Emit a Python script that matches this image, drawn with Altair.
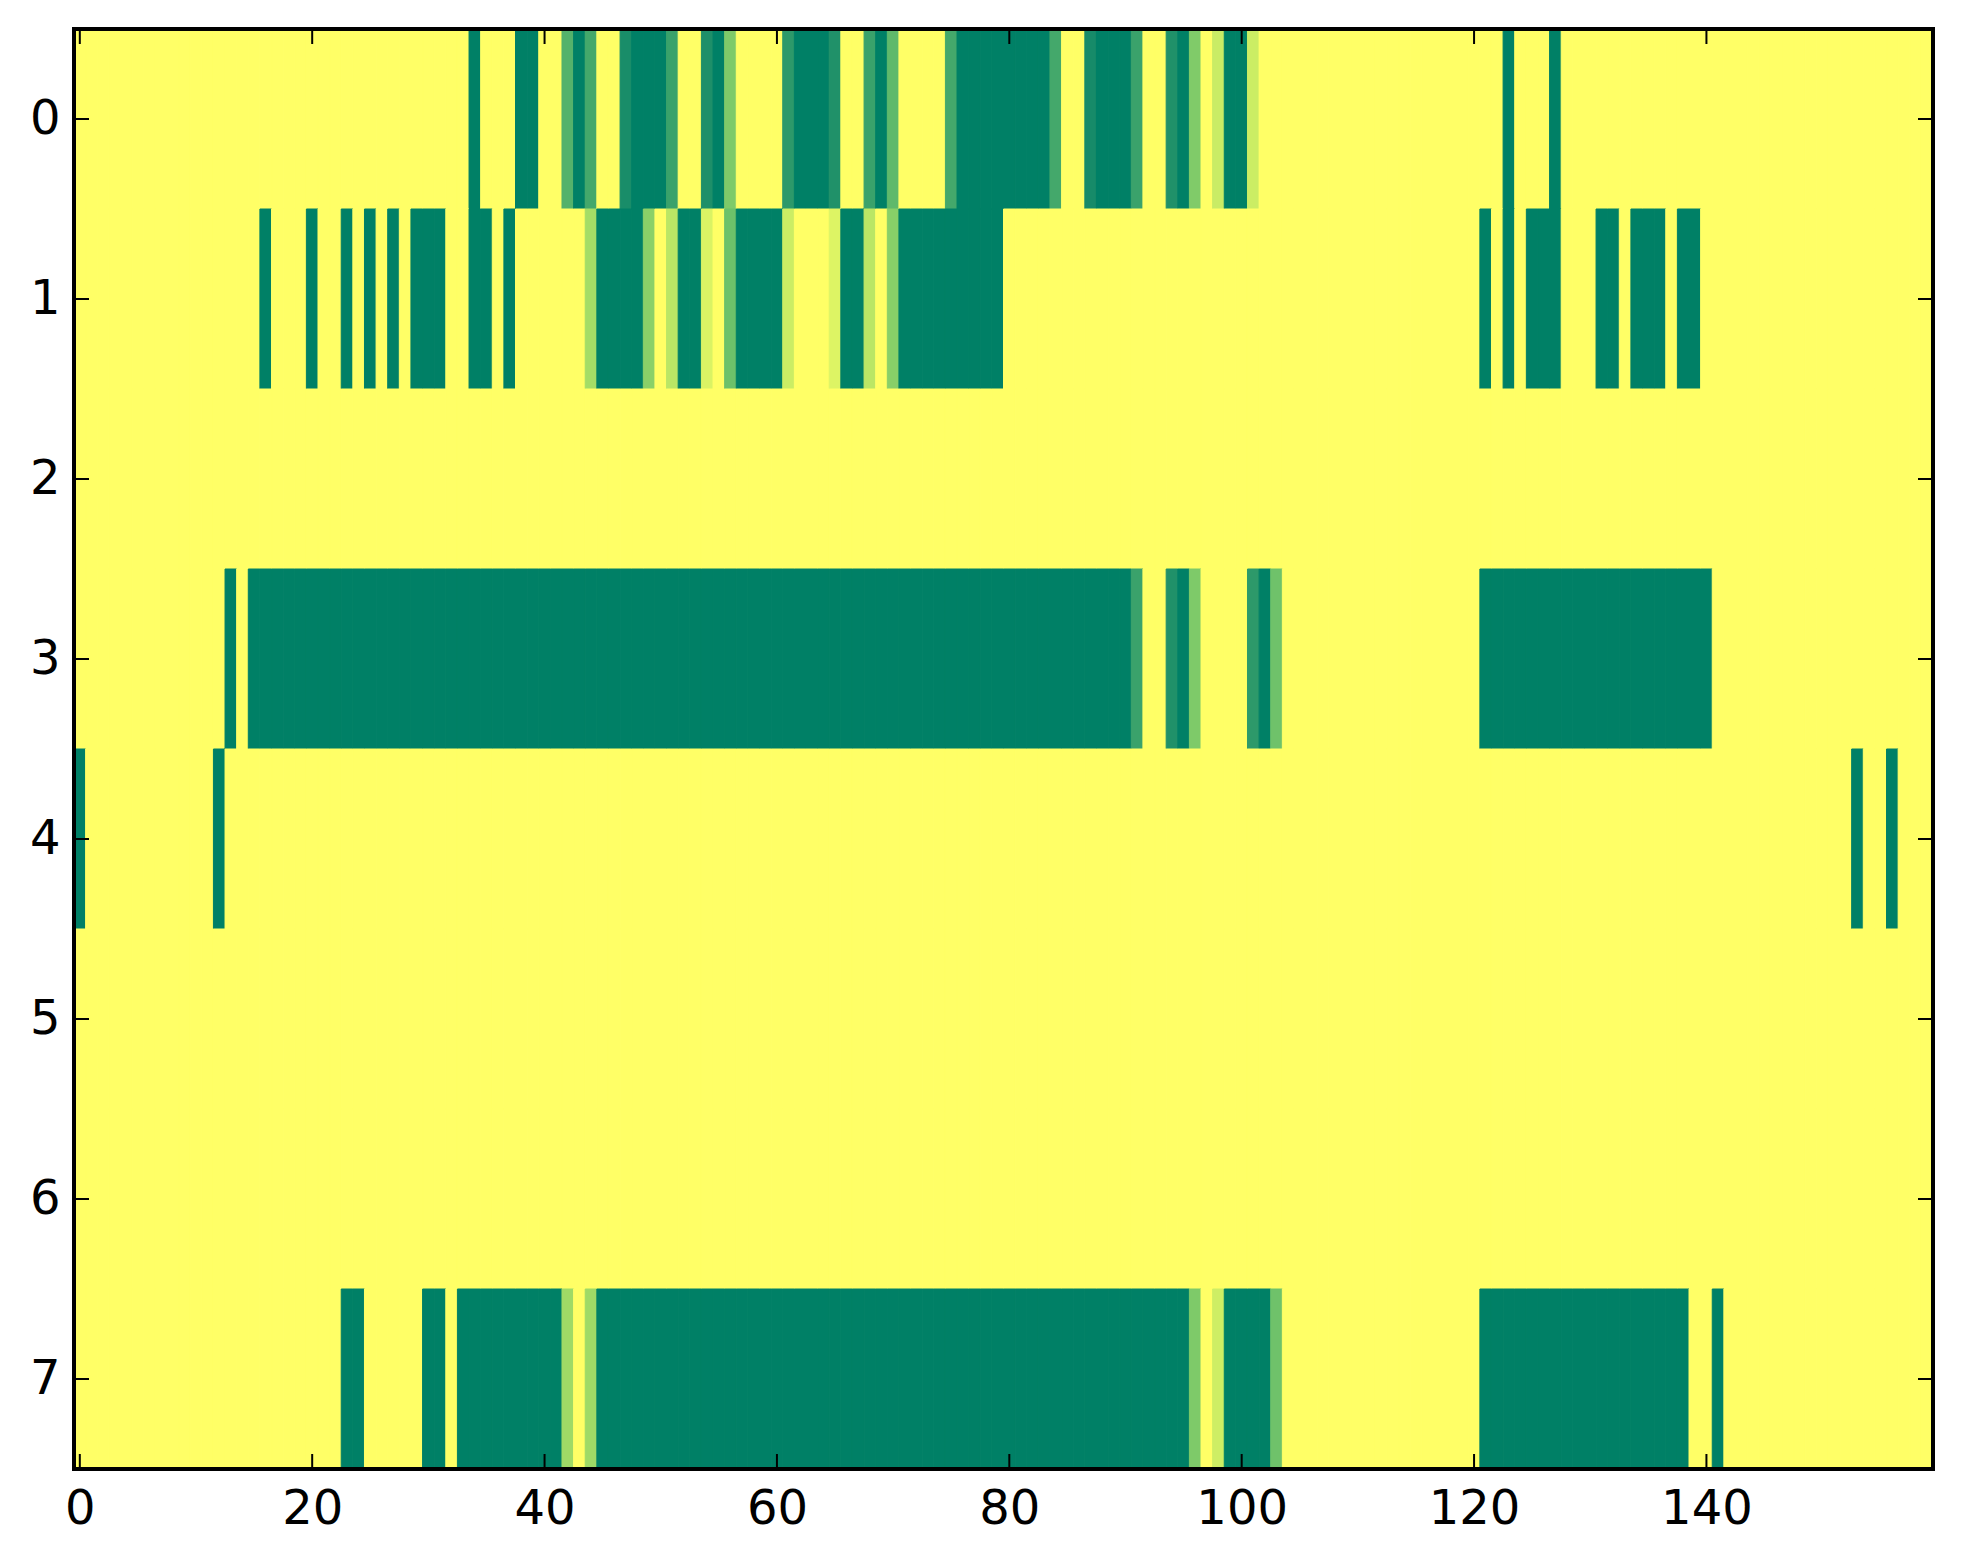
import altair as alt
import pandas as pd

N_COLS = 160
N_ROWS = 8
BACKGROUND = 1.0

# Runs of (first column, last column, value) for cells that differ from the background value
ROW0 = [(34, 34, 0.0), (38, 39, 0.0), (42, 42, 0.36), (43, 43, 0.0), (44, 44, 0.29),
        (47, 47, 0.09), (48, 50, 0.0), (51, 51, 0.24), (54, 54, 0.11), (55, 55, 0.0),
        (56, 56, 0.54), (61, 61, 0.18), (62, 64, 0.0), (65, 65, 0.12), (68, 68, 0.24),
        (69, 69, 0.0), (70, 70, 0.41), (75, 75, 0.29), (76, 83, 0.0), (84, 84, 0.29),
        (87, 87, 0.08), (88, 90, 0.0), (91, 91, 0.24), (94, 94, 0.12), (95, 95, 0.0),
        (96, 96, 0.55), (98, 98, 0.82), (99, 100, 0.0), (101, 101, 0.83),
        (123, 123, 0.0), (127, 127, 0.0)]
ROW1 = [(16, 16, 0.0), (20, 20, 0.0), (23, 23, 0.0), (25, 25, 0.0), (27, 27, 0.0),
        (29, 31, 0.0), (34, 35, 0.0), (37, 37, 0.0), (44, 44, 0.69), (45, 48, 0.0),
        (49, 49, 0.59), (51, 51, 0.77), (52, 53, 0.0), (54, 54, 0.88), (56, 56, 0.47),
        (57, 60, 0.0), (61, 61, 0.83), (65, 65, 0.89), (66, 67, 0.0), (68, 68, 0.77),
        (70, 70, 0.58), (71, 79, 0.0), (121, 121, 0.0), (123, 123, 0.0), (125, 127, 0.0),
        (131, 132, 0.0), (134, 136, 0.0), (138, 139, 0.0)]
ROW2 = []
ROW3 = [(13, 13, 0.0), (15, 90, 0.0), (91, 91, 0.24), (94, 94, 0.12), (95, 95, 0.0),
        (96, 96, 0.54), (101, 101, 0.18), (102, 102, 0.0), (103, 103, 0.48),
        (121, 140, 0.0)]
ROW4 = [(0, 0, 0.0), (12, 12, 0.0), (153, 153, 0.0), (156, 156, 0.0)]
ROW5 = []
ROW6 = []
ROW7 = [(23, 24, 0.0), (30, 31, 0.0), (33, 41, 0.0), (42, 42, 0.67), (44, 44, 0.67),
        (45, 95, 0.0), (96, 96, 0.54), (98, 98, 0.84), (99, 102, 0.0), (103, 103, 0.48),
        (121, 138, 0.0), (141, 141, 0.0)]
ROWS = [ROW0, ROW1, ROW2, ROW3, ROW4, ROW5, ROW6, ROW7]

X_TICKS = [0, 20, 40, 60, 80, 100, 120, 140]
Y_TICKS = [0, 1, 2, 3, 4, 5, 6, 7]

records = []
for r, runs in enumerate(ROWS):
    vals = [BACKGROUND] * N_COLS
    for a, b, v in runs:
        for c in range(a, b + 1):
            vals[c] = v
    for c, v in enumerate(vals):
        records.append({"x0": c - 0.5, "x1": c + 0.5, "y0": r - 0.5, "y1": r + 0.5, "v": v})
df = pd.DataFrame(records)

W, H = 1859, 1440
FONT = "DejaVu Sans"
FS = 48
TL = 15

xscale = alt.Scale(domain=[-0.5, N_COLS - 0.5], nice=False, zero=False)
yscale = alt.Scale(domain=[-0.5, N_ROWS - 0.5], nice=False, zero=False, reverse=True)
cscale = alt.Scale(domain=[0, 1], range=["#008066", "#ffff66"])

heat = alt.Chart(df).mark_rect(strokeWidth=1).encode(
    x=alt.X("x0:Q", scale=xscale,
            axis=alt.Axis(values=X_TICKS, ticks=False, domain=False, grid=False,
                          labelFontSize=FS, labelFont=FONT, labelColor="black",
                          labelPadding=16, title=None, format="d")),
    x2="x1:Q",
    y=alt.Y("y0:Q", scale=yscale,
            axis=alt.Axis(values=Y_TICKS, ticks=False, domain=False, grid=False,
                          labelFontSize=FS, labelFont=FONT, labelColor="black",
                          labelPadding=14, title=None, format="d")),
    y2="y1:Q",
    fill=alt.Fill("v:Q", scale=cscale, legend=None),
    stroke=alt.Stroke("v:Q", scale=cscale, legend=None),
)

xt = pd.DataFrame({"t": X_TICKS})
yt = pd.DataFrame({"t": Y_TICKS})

bottom = alt.Chart(xt).mark_rule(color="black", strokeWidth=2).encode(
    x=alt.X("t:Q", scale=xscale, axis=None), y=alt.value(H - TL), y2=alt.value(H))
top = alt.Chart(xt).mark_rule(color="black", strokeWidth=2).encode(
    x=alt.X("t:Q", scale=xscale, axis=None), y=alt.value(0), y2=alt.value(TL))
left = alt.Chart(yt).mark_rule(color="black", strokeWidth=2).encode(
    y=alt.Y("t:Q", scale=yscale, axis=None), x=alt.value(0), x2=alt.value(TL))
right = alt.Chart(yt).mark_rule(color="black", strokeWidth=2).encode(
    y=alt.Y("t:Q", scale=yscale, axis=None), x=alt.value(W - TL), x2=alt.value(W))

frame = alt.Chart(pd.DataFrame({"f": [0]})).mark_rect(
    filled=False, color="black", strokeWidth=4).encode(
    x=alt.value(0), x2=alt.value(W), y=alt.value(0), y2=alt.value(H))

chart = alt.layer(heat, bottom, top, left, right, frame).resolve_axis(
    x="independent", y="independent"
).properties(
    width=W, height=H,
    autosize=alt.AutoSizeParams(type="none"),
    padding={"left": 66, "top": 21, "right": 20, "bottom": 80},
    background="white",
).configure_view(strokeWidth=0)

chart.save("out.html", embed_options={"renderer": "svg", "actions": False})
